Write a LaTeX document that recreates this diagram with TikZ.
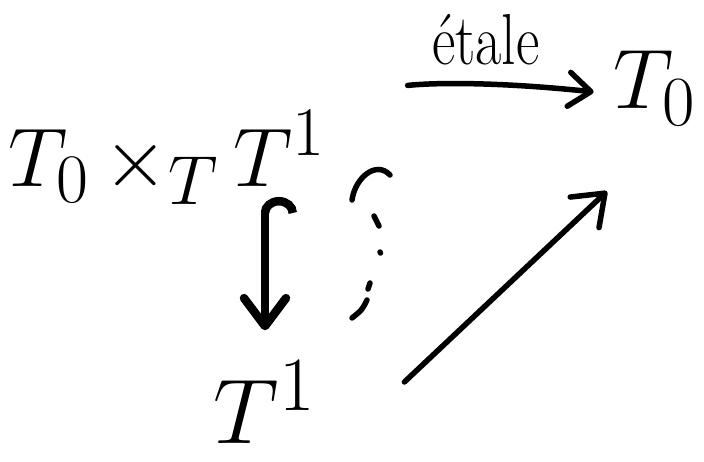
\documentclass[tikz,border=0pt]{standalone}
\usetikzlibrary{arrows.meta}
\begin{document}
\begin{tikzpicture}[x=1pt,y=-1pt,
  hand/.style={line width=5.5pt,line cap=round,line join=round},
  big/.style={inner sep=0pt}]
\useasboundingbox (0,0) rectangle (704,461);
\node[big,anchor=base west] (A) at (8,186) {\scalebox{3.35}{\Huge$T_0\,{\times_T}\,T^1$}};
\node[big] (B) at (655,88) {\scalebox{3.4}{\Huge$T_0$}};
\node[big] (C) at (265,402) {\scalebox{3.7}{\Huge$T^1$}};
% top arrow
\draw[hand,-{Straight Barb[length=22pt,width=34pt,round]},shorten <=82pt,shorten >=20pt]
  ([yshift=-6pt]A.east |- B.center) to[bend left=6]
  node[pos=0.56,above=14pt] (lab) {\scalebox{2.3}[2.9]{\Huge étale}}
  ([yshift=-6pt]B.west);
% hook arrow down
\draw[hand,line width=8.5pt,{Hooks[right,length=16pt,width=64pt]}-{Straight Barb[length=28pt,width=42pt,round]},shorten >=30pt,shorten <=-8pt]
  (C.north |- A.south) -- (C.north);
% diagonal arrow
\draw[hand,-{Straight Barb[length=28pt,width=42pt,round]}]
  ([xshift=88pt,yshift=20pt]C.east) -- ([xshift=-48pt,yshift=-66pt]B.south);
% dashed arc
\draw[hand] (352,200) .. controls (355,178) and (376,160) .. (390,175);
\draw[hand] (374,216) -- (379,226);
\draw[hand] (380,252) -- (380.5,253);
\draw[hand] (370,283) -- (368,289);
\draw[hand] (367,300) .. controls (362,310) .. (352,318);
\end{tikzpicture}
\end{document}
